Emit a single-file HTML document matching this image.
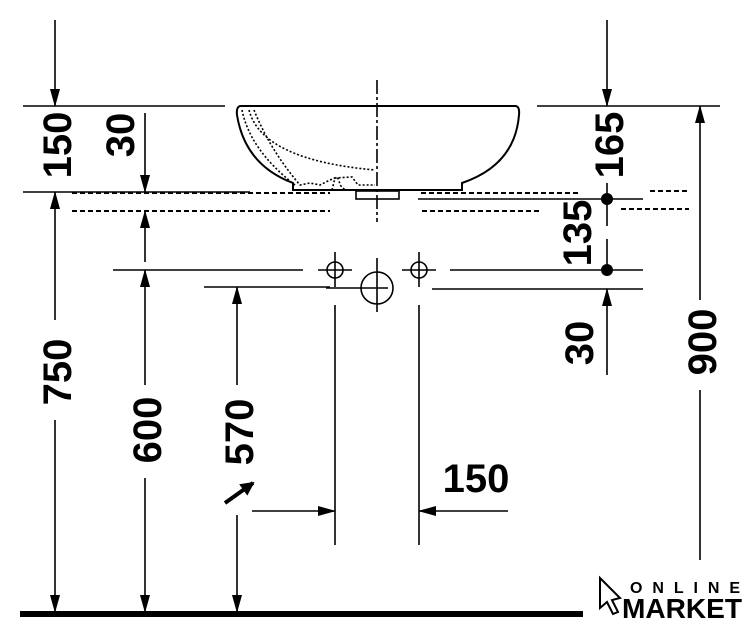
<!DOCTYPE html>
<html><head><style>body{margin:0;background:#fff}svg{display:block}text{font-family:"Liberation Sans",sans-serif;font-weight:bold;font-size:40px;fill:#000}</style></head><body>
<svg width="755" height="640" viewBox="0 0 755 640" xmlns="http://www.w3.org/2000/svg">
<defs><marker id="a" markerWidth="18" markerHeight="10" refX="17" refY="5" orient="auto" markerUnits="userSpaceOnUse"><path d="M0,0L18,5L0,10Z" fill="#000"/></marker>
<marker id="b" markerWidth="14" markerHeight="14" refX="12" refY="7" orient="auto" markerUnits="userSpaceOnUse"><path d="M0,0L14,7L0,14Z" fill="#000"/></marker></defs>
<g stroke="#000" stroke-width="1.6" fill="none">
<line x1="23" y1="106" x2="225" y2="106"/><line x1="537" y1="106" x2="720" y2="106"/>
<line x1="55" y1="20" x2="55" y2="106" marker-end="url(#a)"/>
<line x1="607" y1="20" x2="607" y2="106" marker-end="url(#a)"/>
<path d="M241,106 L515,106 Q520,106 519,115 Q515,165 462,183 L462,190 L293,190 L293,183 Q245,165 237,115 Q236,106 241,106Z" stroke-width="2"/>
<path d="M242,110 Q250,150 295,185" stroke-dasharray="2,2"/>
<path d="M249,110 Q262,160 375,170" stroke-dasharray="2,2"/>
<path d="M254,110 Q270,150 300,185 L310,183 L320,185 L330,180 L335,178 Q338,175 340,185 L345,190" stroke-dasharray="2,2"/>
<path d="M332,190 L335,178 L352,177 L358,185 L375,185" stroke-dasharray="2,2"/>
<rect x="356" y="191" width="43" height="8" stroke-width="1.6"/>
<line x1="377" y1="80" x2="377" y2="222" stroke-dasharray="14,3,3,3"/>
<line x1="23" y1="192" x2="250" y2="192"/>
<line x1="72" y1="193" x2="330" y2="193" stroke-dasharray="5,3" stroke-width="2"/>
<line x1="72" y1="211" x2="330" y2="211" stroke-dasharray="5,3" stroke-width="2"/>
<line x1="421" y1="193" x2="578" y2="193" stroke-dasharray="5,3" stroke-width="2"/>
<line x1="422" y1="211" x2="540" y2="211" stroke-dasharray="5,3" stroke-width="2"/>
<line x1="418" y1="199" x2="643" y2="199"/>
<line x1="650" y1="191" x2="687" y2="191" stroke-dasharray="5,3" stroke-width="2"/>
<line x1="621" y1="209" x2="689" y2="209" stroke-dasharray="5,3" stroke-width="2"/>
<line x1="113" y1="270" x2="303" y2="270"/><line x1="450" y1="270" x2="643" y2="270"/>
<line x1="204" y1="287" x2="330" y2="287"/><line x1="432" y1="289" x2="643" y2="289"/>
<circle cx="335" cy="270" r="8"/><circle cx="419" cy="270" r="8"/><circle cx="377" cy="288" r="16"/>
<line x1="318" y1="270" x2="352" y2="270"/><line x1="335" y1="252" x2="335" y2="287"/>
<line x1="402" y1="270" x2="436" y2="270"/><line x1="419" y1="252" x2="419" y2="287"/>
<line x1="326" y1="288" x2="388" y2="288"/><line x1="377" y1="258" x2="377" y2="312"/>
<line x1="335" y1="305" x2="335" y2="545"/><line x1="419" y1="305" x2="419" y2="545"/>
<line x1="252" y1="511" x2="335" y2="511" marker-end="url(#a)"/>
<line x1="508" y1="511" x2="419" y2="511" marker-end="url(#a)"/>
<line x1="55" y1="320" x2="55" y2="192" marker-end="url(#a)"/>
<line x1="55" y1="420" x2="55" y2="612" marker-end="url(#a)"/>
<line x1="145" y1="113" x2="145" y2="192" marker-end="url(#a)"/>
<line x1="145" y1="262" x2="145" y2="211" marker-end="url(#a)"/>
<line x1="145" y1="385" x2="145" y2="270" marker-end="url(#a)"/>
<line x1="145" y1="478" x2="145" y2="612" marker-end="url(#a)"/>
<line x1="237" y1="385" x2="237" y2="287" marker-end="url(#a)"/>
<line x1="237" y1="515" x2="237" y2="612" marker-end="url(#a)"/>
<line x1="225" y1="503" x2="253" y2="483" stroke-width="4" marker-end="url(#b)"/>
<line x1="607" y1="183" x2="607" y2="226"/>
<line x1="607" y1="239" x2="607" y2="270"/>
<line x1="607" y1="375" x2="607" y2="289" marker-end="url(#a)"/>
<line x1="700" y1="300" x2="700" y2="106" marker-end="url(#a)"/>
<line x1="700" y1="390" x2="700" y2="560"/>
</g>
<circle cx="607" cy="199" r="6"/><circle cx="607" cy="270" r="6"/>
<rect x="20" y="611" width="563" height="6" fill="#000"/>
<g>
<text transform="translate(71,145) rotate(-90)" text-anchor="middle">150</text>
<text transform="translate(134,135) rotate(-90)" text-anchor="middle">30</text>
<text transform="translate(623,145) rotate(-90)" text-anchor="middle">165</text>
<text transform="translate(591,233) rotate(-90)" text-anchor="middle">135</text>
<text transform="translate(593,343) rotate(-90)" text-anchor="middle">30</text>
<text transform="translate(716,342) rotate(-90)" text-anchor="middle">900</text>
<text transform="translate(71,372) rotate(-90)" text-anchor="middle">750</text>
<text transform="translate(161,430) rotate(-90)" text-anchor="middle">600</text>
<text transform="translate(253,432) rotate(-90)" text-anchor="middle">570</text>
<text x="476" y="492" text-anchor="middle">150</text>
</g>
<path d="M600,578 L620,598 L612,600 L618,612 L613,614 L607,602 L600,608Z" fill="none" stroke="#000" stroke-width="2"/>
<text x="630" y="593" style="font-size:16px" textLength="110" lengthAdjust="spacing">ONLINE</text>
<text x="622" y="618" style="font-size:28px;font-weight:900" textLength="120" lengthAdjust="spacingAndGlyphs">MARKET</text>
</svg>
</body></html>
